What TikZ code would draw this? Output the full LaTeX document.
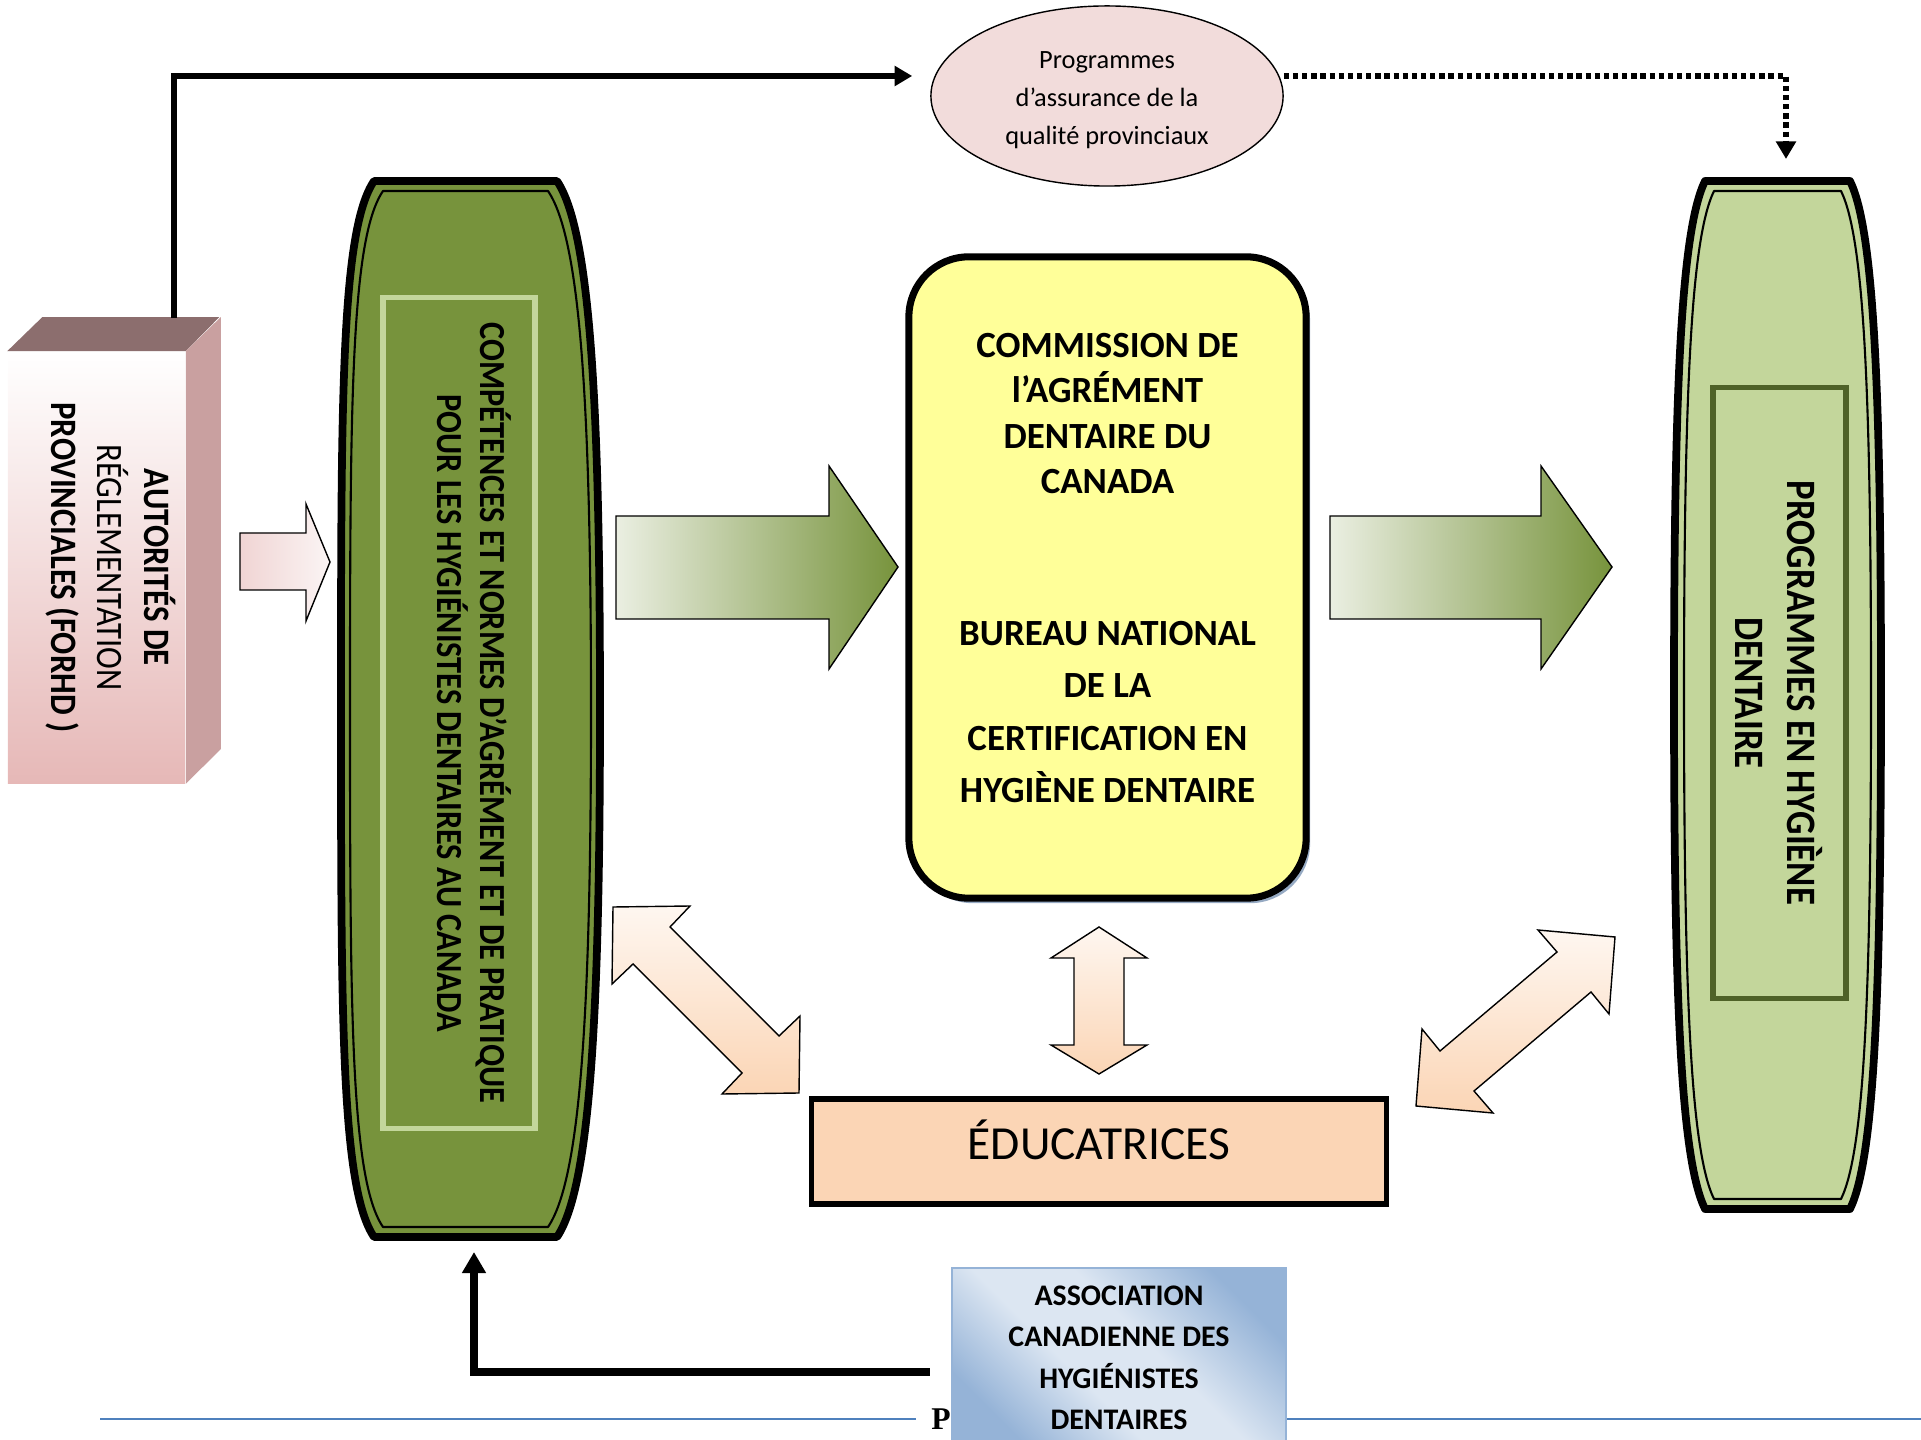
\documentclass[tikz,border=0pt]{standalone}
\usepackage{fontspec}
\setmainfont{Carlito}
\newfontfamily\etroit[FakeStretch=0.88]{Carlito}
\newfontfamily\pied{Liberation Serif}
\usepackage{tikz}
\usetikzlibrary{positioning,arrows.meta,shapes.geometric,calc,shadows}
\definecolor{vertfonce}{RGB}{119,147,60}
\definecolor{vertclair}{RGB}{195,214,155}
\definecolor{vertolive}{RGB}{79,98,40}
\definecolor{jaune}{RGB}{255,255,153}
\definecolor{peche}{RGB}{251,213,181}
\definecolor{roseclair}{RGB}{242,220,219}
\definecolor{rosebas}{RGB}{230,184,183}
\definecolor{rosedessus}{RGB}{140,110,110}
\definecolor{rosecote}{RGB}{201,160,160}
\definecolor{bleuclair}{RGB}{220,230,242}
\definecolor{bleufonce}{RGB}{149,179,215}
\definecolor{bleupied}{RGB}{79,129,189}
\definecolor{ombre}{RGB}{150,170,195}
\pgfdeclarehorizontalshading{reflet}{100bp}{color(0bp)=(bleufonce); color(25bp)=(bleufonce); color(42bp)=(bleuclair); color(56bp)=(bleuclair); color(75bp)=(bleufonce); color(100bp)=(bleufonce)}

\begin{document}
\begin{tikzpicture}[x=0.01cm, y=-0.01cm,
    trait/.style={line width=1.6pt},
    pointe/.style={-{Triangle[length=5pt,width=5.5pt]}},
    blocfl/.style={draw=black, line width=0.4pt}]
\useasboundingbox (0,0) rectangle (1921,1440);

% Pied de page
\draw[bleupied, line width=0.6pt] (100,1419) -- (916,1419);
\draw[bleupied, line width=0.6pt] (1286,1419) -- (1921,1419);
\node[font=\pied\bfseries\fontsize{9}{10}\selectfont] (pagep) at (941,1419) {P};

% Autorites provinciales (boite 3D)
\node[top color=white, bottom color=rosebas, minimum width=1.77cm, minimum height=4.31cm, inner sep=0] (forhd) at (96.5,567.5) {};
\fill[rosedessus] (forhd.north west) -- ++(35,-34) -- ++(177,0) -- (forhd.north east) -- cycle;
\fill[rosecote] (forhd.north east) -- ++(35,-34) -- ++(0,432) -- (forhd.south east) -- cycle;
\node[rotate=-90, align=center, font=\etroit\fontsize{10.6}{13.2}\selectfont] (forhdtxt) at ([xshift=0.14cm]forhd.center)
    {\textbf{AUTORITÉS DE}\\ RÉGLEMENTATION\\ \textbf{PROVINCIALES (FORHD )}};

% Assurance de la qualite
\node[ellipse, draw, fill=roseclair, minimum width=3.52cm, minimum height=1.8cm, inner sep=0] (qualite) at (1107,96) {};
\node[align=center, font=\fontsize{7.5}{10.8}\selectfont] (qualitetxt) at ([yshift=-0.04cm]qualite.center)
    {Programmes\\ d’assurance de la\\ qualité provinciaux};

% Liaisons du haut
\coordinate (forhdhaut) at (174,318);
\coordinate (proghaut) at (1786,159);
\draw[trait, pointe] (forhdhaut) |- ([shift={(-18,-20)}]qualite.west);
\draw[trait, dash pattern=on 1.5pt off 1.1pt, pointe] ([shift={(0,-20)}]qualite.east) -| (proghaut);

% Capsule gauche
\filldraw[fill=vertfonce, line width=2.2pt, line join=round] (374,181) -- (557,181)
    .. controls (590,230) and (600,400) .. (600,709) .. controls (600,1018) and (590,1188) .. (557,1237)
    -- (374,1237) .. controls (341,1188) and (341,1018) .. (341,709) .. controls (341,400) and (341,230) .. (374,181) -- cycle;
\draw[line width=0.6pt, line join=round] (383,191) -- (548,191)
    .. controls (580,238) and (591,400) .. (591,709) .. controls (591,1018) and (580,1180) .. (548,1227)
    -- (383,1227) .. controls (351,1180) and (350,1018) .. (350,709) .. controls (350,400) and (351,238) .. (383,191) -- cycle;
\node[draw=vertclair, line width=1.5pt, minimum width=1.52cm, minimum height=8.3cm] (competences) at (459,713) {};
\node[rotate=-90, align=center, font=\etroit\bfseries\fontsize{10.45}{12.2}\selectfont] (competencestxt)
    at ([xshift=0.15cm]competences.center)
    {COMPÉTENCES ET NORMES D’AGRÉMENT ET DE PRATIQUE\\ POUR LES HYGIÉNISTES DENTAIRES AU CANADA};

% Capsule droite
\filldraw[fill=vertclair, line width=2.2pt, line join=round] (1705,181) -- (1850,181)
    .. controls (1874,230) and (1881,390) .. (1881,695) .. controls (1881,1000) and (1874,1160) .. (1850,1209)
    -- (1705,1209) .. controls (1681,1160) and (1674,1000) .. (1674,695) .. controls (1674,390) and (1681,230) .. (1705,181) -- cycle;
\draw[line width=0.6pt, line join=round] (1714,191) -- (1841,191)
    .. controls (1864,238) and (1871,390) .. (1871,695) .. controls (1871,1000) and (1864,1152) .. (1841,1199)
    -- (1714,1199) .. controls (1691,1152) and (1684,1000) .. (1684,695) .. controls (1684,390) and (1691,238) .. (1714,191) -- cycle;
\node[draw=vertolive, line width=1.5pt, rotate=-90, minimum width=6.1cm, minimum height=1.33cm, align=center,
    font=\etroit\bfseries\fontsize{11.9}{14.8}\selectfont] (programmes) at (1779.5,693)
    {PROGRAMMES EN HYGIÈNE\\ DENTAIRE};

% Fleches pleines
\shadedraw[blocfl, left color=rosebas!60, right color=roseclair!30]
    (240,533) -- (306,533) -- (306,504) -- (330,562) -- (306,621) -- (306,590) -- (240,590) -- cycle;
\shadedraw[blocfl, left color=vertfonce!15, right color=vertfonce]
    (616,516) -- (829,516) -- (829,466) -- (898,567) -- (829,669) -- (829,619) -- (616,619) -- cycle;
\shadedraw[blocfl, left color=vertfonce!15, right color=vertfonce]
    (1330,516) -- (1541,516) -- (1541,466) -- (1612,567) -- (1541,669) -- (1541,619) -- (1330,619) -- cycle;

% Commission et bureau national
\node[draw, line width=2pt, fill=jaune, rounded corners=0.6cm, minimum width=3.97cm, minimum height=6.41cm,
    drop shadow={shadow xshift=0.04cm, shadow yshift=-0.05cm, fill=ombre, opacity=1}] (centre) at (1107.5,577.5) {};
\node[font=\bfseries\fontsize{10.5}{12.9}\selectfont, align=center] (cdac) at (1107.5,413.5)
    {COMMISSION DE\\ l’AGRÉMENT\\ DENTAIRE DU\\ CANADA};
\node[font=\bfseries\fontsize{10.5}{14.9}\selectfont, align=center] (bnc) at (1107.5,712)
    {BUREAU NATIONAL\\ DE LA\\ CERTIFICATION EN\\ HYGIÈNE DENTAIRE};

% Doubles fleches
\shadedraw[blocfl, top color=peche!20, bottom color=peche]
    (1099,927) -- (1147,958) -- (1124,958) -- (1124,1045) -- (1147,1045) -- (1099,1074)
    -- (1051,1045) -- (1074,1045) -- (1074,958) -- (1051,958) -- cycle;
\shadedraw[blocfl, top color=peche!20, bottom color=peche]
    (613,907) -- (690,906) -- (670,927) -- (779,1036) -- (800,1016) -- (799,1093)
    -- (722,1094) -- (742,1073) -- (633,964) -- (612,984) -- cycle;
\shadedraw[blocfl, top color=peche!20, bottom color=peche]
    (1615,937) -- (1609,1014) -- (1591,992) -- (1474,1091) -- (1493,1113) -- (1416,1106)
    -- (1422,1029) -- (1440,1051) -- (1557,952) -- (1538,930) -- cycle;

% Educatrices
\node[draw, line width=1.5pt, fill=peche, minimum width=5.74cm, minimum height=1.05cm] (educ) at (1099,1151.5) {};
\node[font=\fontsize{13.5}{16}\selectfont] (eductxt) at ([yshift=0.12cm]educ.center) {ÉDUCATRICES};

% Association canadienne
\node[draw=bleufonce, line width=0.6pt, shading=reflet, shading angle=45, minimum width=3.34cm, minimum height=1.8cm,
    align=center, font=\bfseries\fontsize{8.5}{11.8}\selectfont] (acdh) at (1119,1358)
    {ASSOCIATION\\ CANADIENNE DES\\ HYGIÉNISTES\\ DENTAIRES};
\coordinate (compbas) at (474,1252);
\draw[line width=2.2pt, -{Triangle[length=6pt,width=6.5pt]}] ([shift={(-21,14)}]acdh.west) -| (compbas);

\end{tikzpicture}
\end{document}
